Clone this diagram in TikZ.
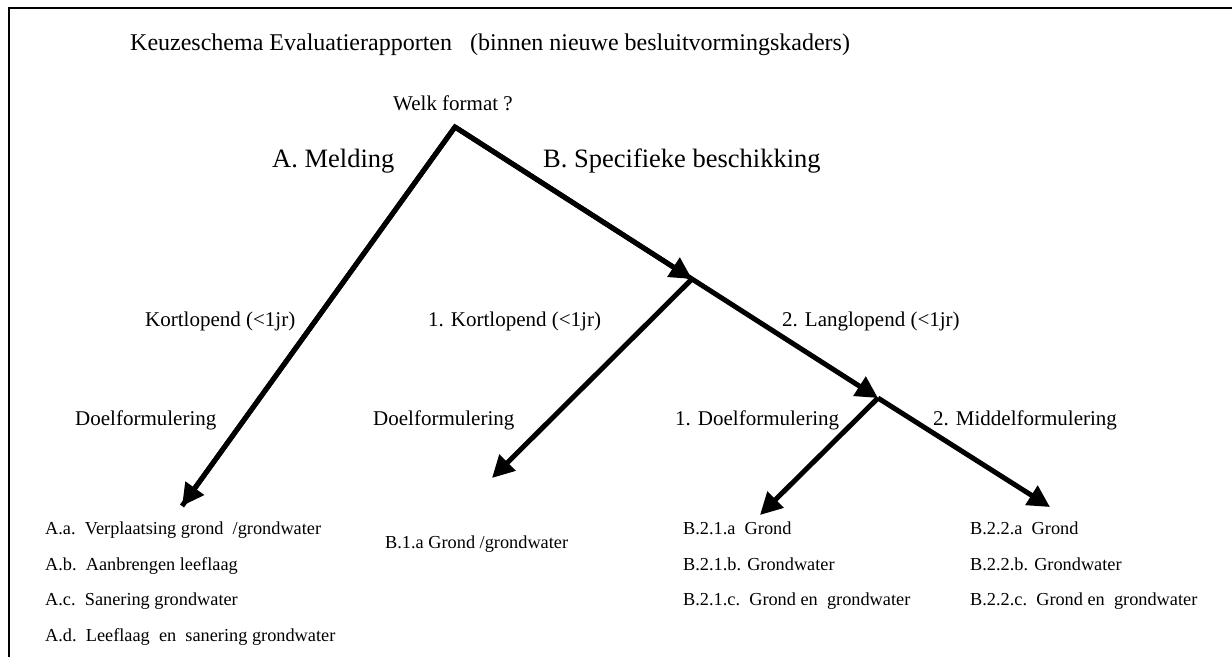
\documentclass[tikz,border=0pt]{standalone}
\usepackage{fontspec}
\setmainfont{Liberation Serif}
\usetikzlibrary{arrows.meta}
\begin{document}
\begin{tikzpicture}[x=1pt,y=-1pt,
  lbl/.style={anchor=base west,inner sep=0pt,font=\fontsize{21}{25}\selectfont},
  big/.style={anchor=base west,inner sep=0pt,font=\fontsize{26.5}{30}\selectfont},
  ttl/.style={anchor=base west,inner sep=0pt,font=\fontsize{24}{28}\selectfont},
  leaf/.style={anchor=base west,inner sep=0pt,font=\fontsize{18.3}{22}\selectfont},
  branch/.style={line width=5pt,-{Triangle[length=22pt,width=22pt]}},
  plain/.style={line width=5pt}]
\useasboundingbox (0,0) rectangle (1232,657);
\draw[line width=2pt] (9,657) -- (9,8) -- (1232,8);
% texts
\node[ttl] (title) at (130,50) {Keuzeschema Evaluatierapporten\ \ \ (binnen nieuwe besluitvormingskaders)};
\node[lbl] (welk) at (393,110) {Welk format ?};
\node[big] (A) at (272,167) {A. Melding};
\node[big] (B) at (543,167) {B. Specifieke beschikking};
\node[lbl] (kA) at (145,326) {Kortlopend (<1jr)};
\node[lbl] (kB1) at (428,326) {1. Kortlopend (<1jr)};
\node[lbl] (kB2) at (782,326) {2. Langlopend (<1jr)};
\node[lbl] (dA) at (75,425) {Doelformulering};
\node[lbl] (dB1) at (373,425) {Doelformulering};
\node[lbl] (dB21) at (675,425) {1. Doelformulering};
\node[lbl] (dB22) at (933,425) {2. Middelformulering};
\node[leaf] (Aa) at (45,534) {A.a.\ \ Verplaatsing grond\ \ /grondwater};
\node[leaf] (Ab) at (45,570) {A.b.\ \ Aanbrengen leeflaag};
\node[leaf] (Ac) at (45,605) {A.c.\ \ Sanering grondwater};
\node[leaf] (Ad) at (45,641) {A.d.\ \ Leeflaag\ \ en\ \ sanering grondwater};
\node[leaf] (B1a) at (385,548) {B.1.a Grond /grondwater};
\node[leaf] (B21a) at (683,534) {B.2.1.a\ \ Grond};
\node[leaf] (B21b) at (683,570) {B.2.1.b. Grondwater};
\node[leaf] (B21c) at (683,605) {B.2.1.c.\ \ Grond en\ \ grondwater};
\node[leaf] (B22a) at (970,534) {B.2.2.a\ \ Grond};
\node[leaf] (B22b) at (970,570) {B.2.2.b. Grondwater};
\node[leaf] (B22c) at (970,605) {B.2.2.c.\ \ Grond en\ \ grondwater};
% tree
\coordinate (top) at (455,127);
\coordinate (j1) at (692,279);
\coordinate (j2) at (878,398);
\coordinate (tA) at (182,506);
\coordinate (tB1) at (492,478);
\coordinate (tB21) at (760,515);
\coordinate (tB22) at (1050,507);
\draw[plain,line join=miter] (tA) -- (top) -- (j1);
\draw[branch] (top) -- (j1);
\draw[branch] (top) -- (tA);
\draw[branch] (j1) -- (j2);
\draw[branch] (j1) -- (tB1);
\draw[branch] (j2) -- (tB21);
\draw[branch] (j2) -- (tB22);
\end{tikzpicture}
\end{document}
